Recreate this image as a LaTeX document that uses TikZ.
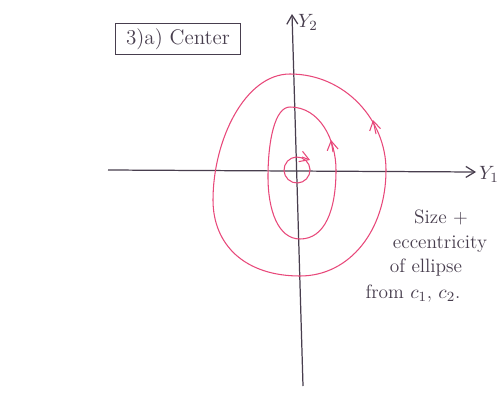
\documentclass[tikz,border=0pt]{standalone}
\definecolor{Ink}{RGB}{72,62,78}
\definecolor{Pen}{RGB}{232,72,122}
\usepackage{amsmath}
\usetikzlibrary{arrows.meta,positioning}

\begin{document}
\begin{tikzpicture}[x=0.02cm,y=-0.02cm,>={Straight Barb[length=1.8mm,width=2.2mm]},
  axis/.style={draw=Ink,line width=0.7pt},
  orbit/.style={draw=Pen,line width=0.6pt},
  note/.style={font=\fontsize{11}{13}\selectfont,text=Ink,inner sep=1pt}]
  \useasboundingbox[fill=white] (0,0) rectangle (500,392);
  % axes
  \coordinate (xl) at (108,170);
  \coordinate (xr) at (476,172);
  \coordinate (yb) at (303,386);
  \coordinate (yt) at (292,14);
  \draw[axis,->] (xl) -- (xr);
  \draw[axis,->] (yb) -- (yt);
  \node[note,anchor=west] (y1) at (477,174) {$Y_1$};
  \node[note,anchor=west] (y2) at (296,22) {$Y_2$};
  \node[note,draw=Ink,line width=0.7pt,minimum width=2.5cm,minimum height=0.62cm,font=\fontsize{12}{14}\selectfont] (title) at (178,39) {3)a) Center};
  % trajectories
  \draw[orbit] (290,74) .. controls (345,74) and (386,120) .. (386,170)
    .. controls (386,230) and (350,276) .. (300,276)
    .. controls (245,276) and (213,245) .. (213,200)
    .. controls (213,140) and (245,74) .. (290,74);
  \draw[orbit] (290,107) .. controls (320,107) and (336,140) .. (336,170)
    .. controls (336,210) and (325,239) .. (300,239)
    .. controls (278,239) and (268,210) .. (268,177)
    .. controls (268,140) and (275,107) .. (290,107);
  \draw[orbit,rotate around={-20:(297,170)}] (297,170) ellipse [x radius=13,y radius=13];
  \draw[orbit,->] (376,134) -- (373,120);
  \draw[orbit,->] (333,152) -- (331,140);
  \draw[orbit,->] (302,157) -- (310,160);
  % remark
  \node[note] (l1) at (441,217) {Size +};
  \node[note] (l2) at (440,244) {eccentricity};
  \node[note] (l3) at (426,268) {of ellipse};
  \node[note] (l4) at (413,294) {from $c_1$, $c_2$.};
\end{tikzpicture}
\end{document}
